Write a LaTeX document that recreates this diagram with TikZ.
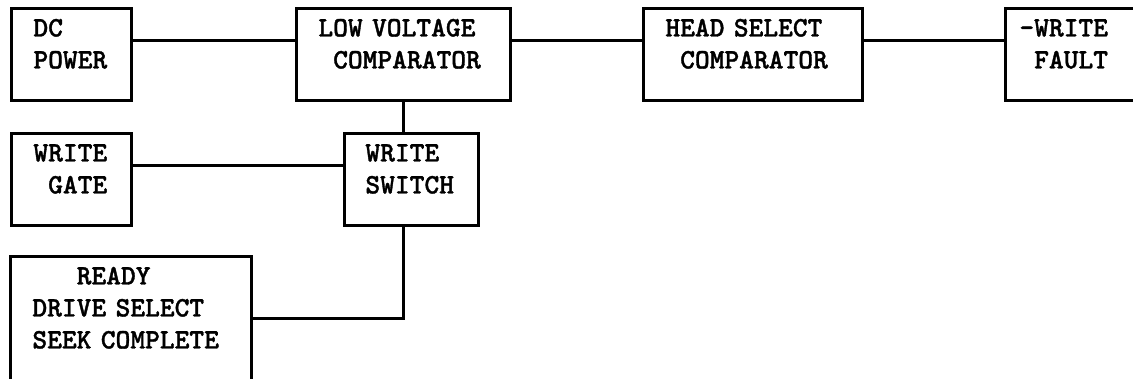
\documentclass[tikz,border=0pt]{standalone}
\usepackage{fontspec}
\newfontfamily\diagmono{lmmonolt10-bold.otf}[FakeBold=1.2]
\DeclareRobustCommand\blkfont{\diagmono\fontsize{20pt}{22.76pt}\selectfont}
\newcommand\toprow{\rule{0pt}{0.7cm}}
\newcommand\lastrow{\rule[-0.8cm]{0pt}{0.8cm}}
\newcommand\colsp{\hphantom{X}}
\tikzset{
  blk/.style={draw,line width=2pt,anchor=north west,inner ysep=0pt,inner xsep=0.55cm,
    align=left,font=\blkfont},
  wire/.style={line width=2pt}
}

\begin{document}
\begin{tikzpicture}[x=0.025cm,y=-0.025cm]
        \useasboundingbox (0,0) rectangle (1133,378);
        \clip (0,0) rectangle (1133,378);
        % top row
        \node[blk,text width=1.9cm] (dc) at (10,7) {\toprow DC\\POWER\lastrow};
        \node[blk,text width=4.25cm] (lvc) at (295,7) {\toprow LOW VOLTAGE\\\colsp COMPARATOR\lastrow};
        \node[blk,text width=4.375cm] (hsc) at (642,7) {\toprow HEAD SELECT\\\colsp COMPARATOR\lastrow};
        \node[blk,inner xsep=0.35cm,text width=3.05cm] (wf) at (1004,7) {\toprow -WRITE\\\colsp FAULT\lastrow};
        % lower rows
        \node[blk,text width=1.9cm] (wg) at (10,132) {\toprow WRITE\\\colsp GATE\lastrow};
        \node[blk,inner xsep=0.525cm,text width=2.3cm] (ws) at (343,132) {\toprow WRITE\\SWITCH\lastrow};
        \node[blk,text width=4.925cm] (rdy) at (9,255) {\toprow\colsp\colsp\colsp READY\\DRIVE SELECT\\SEEK COMPLETE\lastrow};
        % connectors
        \draw[wire] ([yshift=0.35cm]dc.east) -- ([yshift=0.35cm]lvc.west);
        \draw[wire] ([yshift=0.35cm]lvc.east) -- ([yshift=0.35cm]hsc.west);
        \draw[wire] ([yshift=0.35cm]hsc.east) -- ([yshift=0.35cm]wf.west);
        \draw[wire] ([yshift=0.35cm]wg.east) -- ([yshift=0.35cm]ws.west);
        \draw[wire] (lvc.south) -- (lvc.south |- ws.north);
        \draw[wire] (rdy.east) -| (lvc.south |- ws.south);
\end{tikzpicture}
\end{document}
